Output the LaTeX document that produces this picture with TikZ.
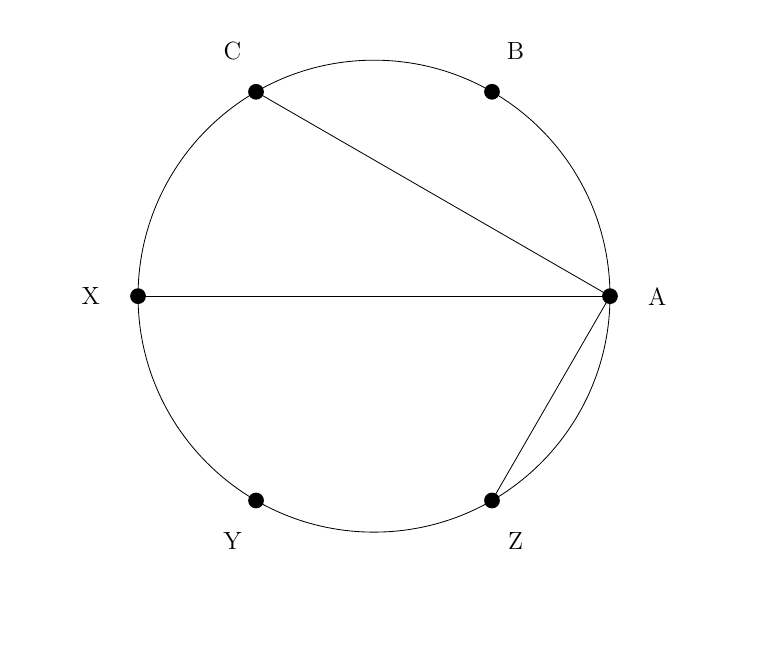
\documentclass[tikz,border=0pt]{standalone}
\usepackage{tikz}
\usetikzlibrary{calc}

\begin{document}
\begin{tikzpicture}
\tikzstyle{point} = [fill, circle, inner sep=0pt, minimum size=7.6pt];
\tikzstyle{lbl} = [inner sep=0pt, font=\large];

\useasboundingbox (-6.34,-6.0) rectangle (6.78,5.02);

\draw (0,0) circle (4);

\node [point] (A) at (0:4) {};
\node [point] (B) at (60:4) {};
\node [point] (C) at (120:4) {};
\node [point] (X) at (180:4) {};
\node [point] (Y) at (240:4) {};
\node [point] (Z) at (300:4) {};

\node [lbl] (lA) at (0:4.8) {A};
\node [lbl] (lB) at (60:4.8) {B};
\node [lbl] (lC) at (120:4.8) {C};
\node [lbl] (lX) at (180:4.8) {X};
\node [lbl] (lY) at (240:4.8) {Y};
\node [lbl] (lZ) at (300:4.8) {Z};

\draw (C.center)--(A.center);
\draw (X.center)--(A.center);
\draw (Z.center)--(A.center);
\end{tikzpicture}
\end{document}
